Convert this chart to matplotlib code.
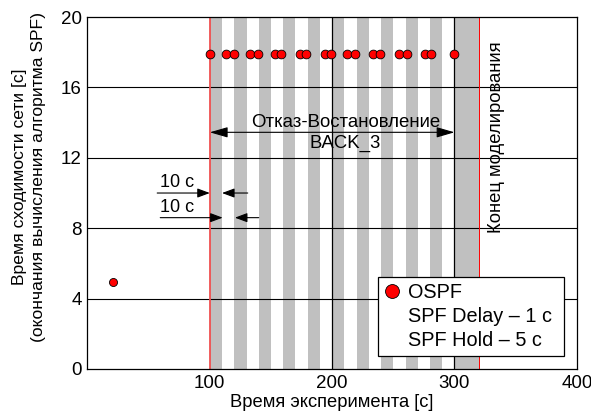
import matplotlib.pyplot as plt
from matplotlib.lines import Line2D

plt.rcParams['font.family'] = ['Liberation Sans', 'DejaVu Sans']

# data
ospf_x = [100, 113, 119.5, 133, 139.5, 153.5, 158, 174, 179, 194, 199,
          212.5, 219, 233, 239, 255, 261, 276, 281, 300]
ospf_y = [17.9] * len(ospf_x)
start_x = [21]
start_y = [4.95]
band_starts = [100, 120, 140, 160, 180, 200, 220, 240, 260, 280, 300]
band_ends = [110, 130, 150, 170, 190, 210, 230, 250, 270, 290, 320]
fail_start = 100
fail_end = 300
sim_end = 320
xticks = [100, 200, 300, 400]
yticks = [0, 4, 8, 12, 16, 20]

fig = plt.figure(figsize=(5.91, 4.16), dpi=100)
ax = fig.add_axes([0.148, 0.113, 0.828, 0.846])

for a, b in zip(band_starts, band_ends):
    ax.axvspan(a, b, color='#c0c0c0', lw=0, zorder=0)

for yv in [4, 8, 12, 16]:
    ax.axhline(yv, color='black', lw=0.8, zorder=1)
for xv in [200, 300]:
    ax.axvline(xv, color='black', lw=0.9, zorder=1)

ax.axvline(fail_start, color='#f05050', lw=1.3, zorder=2)
ax.axvline(sim_end, color='red', lw=0.7, zorder=2)

ax.plot(ospf_x, ospf_y, 'o', color='red', mec='black', mew=0.6, ms=6.3, zorder=4, clip_on=False)
ax.plot(start_x, start_y, 'o', color='red', mec='black', mew=0.6, ms=5.8, zorder=4)

ax.set_xlim(0, 400)
ax.set_ylim(0, 20)
ax.set_xticks(xticks)
ax.set_yticks(yticks)
ax.tick_params(length=0, labelsize=13.5, pad=4)
for s in ax.spines.values():
    s.set_linewidth(0.9)

ax.set_xlabel('Время эксперимента [с]', fontsize=13.2, labelpad=2)
fig.text(0.049, 0.574, 'Время сходимости сети [с]\n(окончания вычисления алгоритма SPF)',
         fontsize=12.6, rotation=90, ha='center', va='center', linespacing=1.3)

# 10 c arrows
head = dict(arrowstyle='-|>,head_length=0.75,head_width=0.28', color='black', lw=0.8,
            shrinkA=0, shrinkB=0)
ax.annotate('', xy=(100, 10), xytext=(57, 10), arrowprops=head)
ax.annotate('', xy=(110, 10), xytext=(131, 10), arrowprops=head)
ax.annotate('', xy=(110.5, 8.6), xytext=(59.5, 8.6), arrowprops=head)
ax.annotate('', xy=(120.5, 8.6), xytext=(140, 8.6), arrowprops=head)
ax.text(59, 10.1, '10 с', fontsize=13, ha='left', va='bottom')
ax.text(59, 8.7, '10 с', fontsize=13, ha='left', va='bottom')

# failure / recovery period
ax.annotate('', xy=(fail_start, 13.45), xytext=(fail_end, 13.45),
            arrowprops=dict(arrowstyle='<|-|>,head_length=1.1,head_width=0.32',
                            color='black', lw=0.8, shrinkA=0, shrinkB=0))
ax.text(211, 13.55, 'Отказ-Востановление', fontsize=13.4, ha='center', va='bottom')
ax.text(211, 13.3, 'BACK_3', fontsize=13.4, ha='center', va='top')

ax.text(334, 18.6, 'Конец моделирования', fontsize=13.3, rotation=90,
        ha='center', va='top', zorder=0.5)

handles = [
    Line2D([], [], marker='o', ls='none', color='red', mec='black', mew=0.6, ms=10),
    Line2D([], [], ls='none'),
    Line2D([], [], ls='none'),
]
labels = ['OSPF', 'SPF Delay – 1 с ', 'SPF Hold – 5 с']
leg = ax.legend(handles, labels, loc='lower right', bbox_to_anchor=(0.973, 0.037),
                fontsize=14.3, frameon=True, fancybox=False, framealpha=1,
                edgecolor='black', handlelength=0.75, handletextpad=0.42,
                borderpad=0.32, labelspacing=0.24, borderaxespad=0)
leg.get_frame().set_linewidth(0.9)

fig.savefig('out.png', dpi=100)
